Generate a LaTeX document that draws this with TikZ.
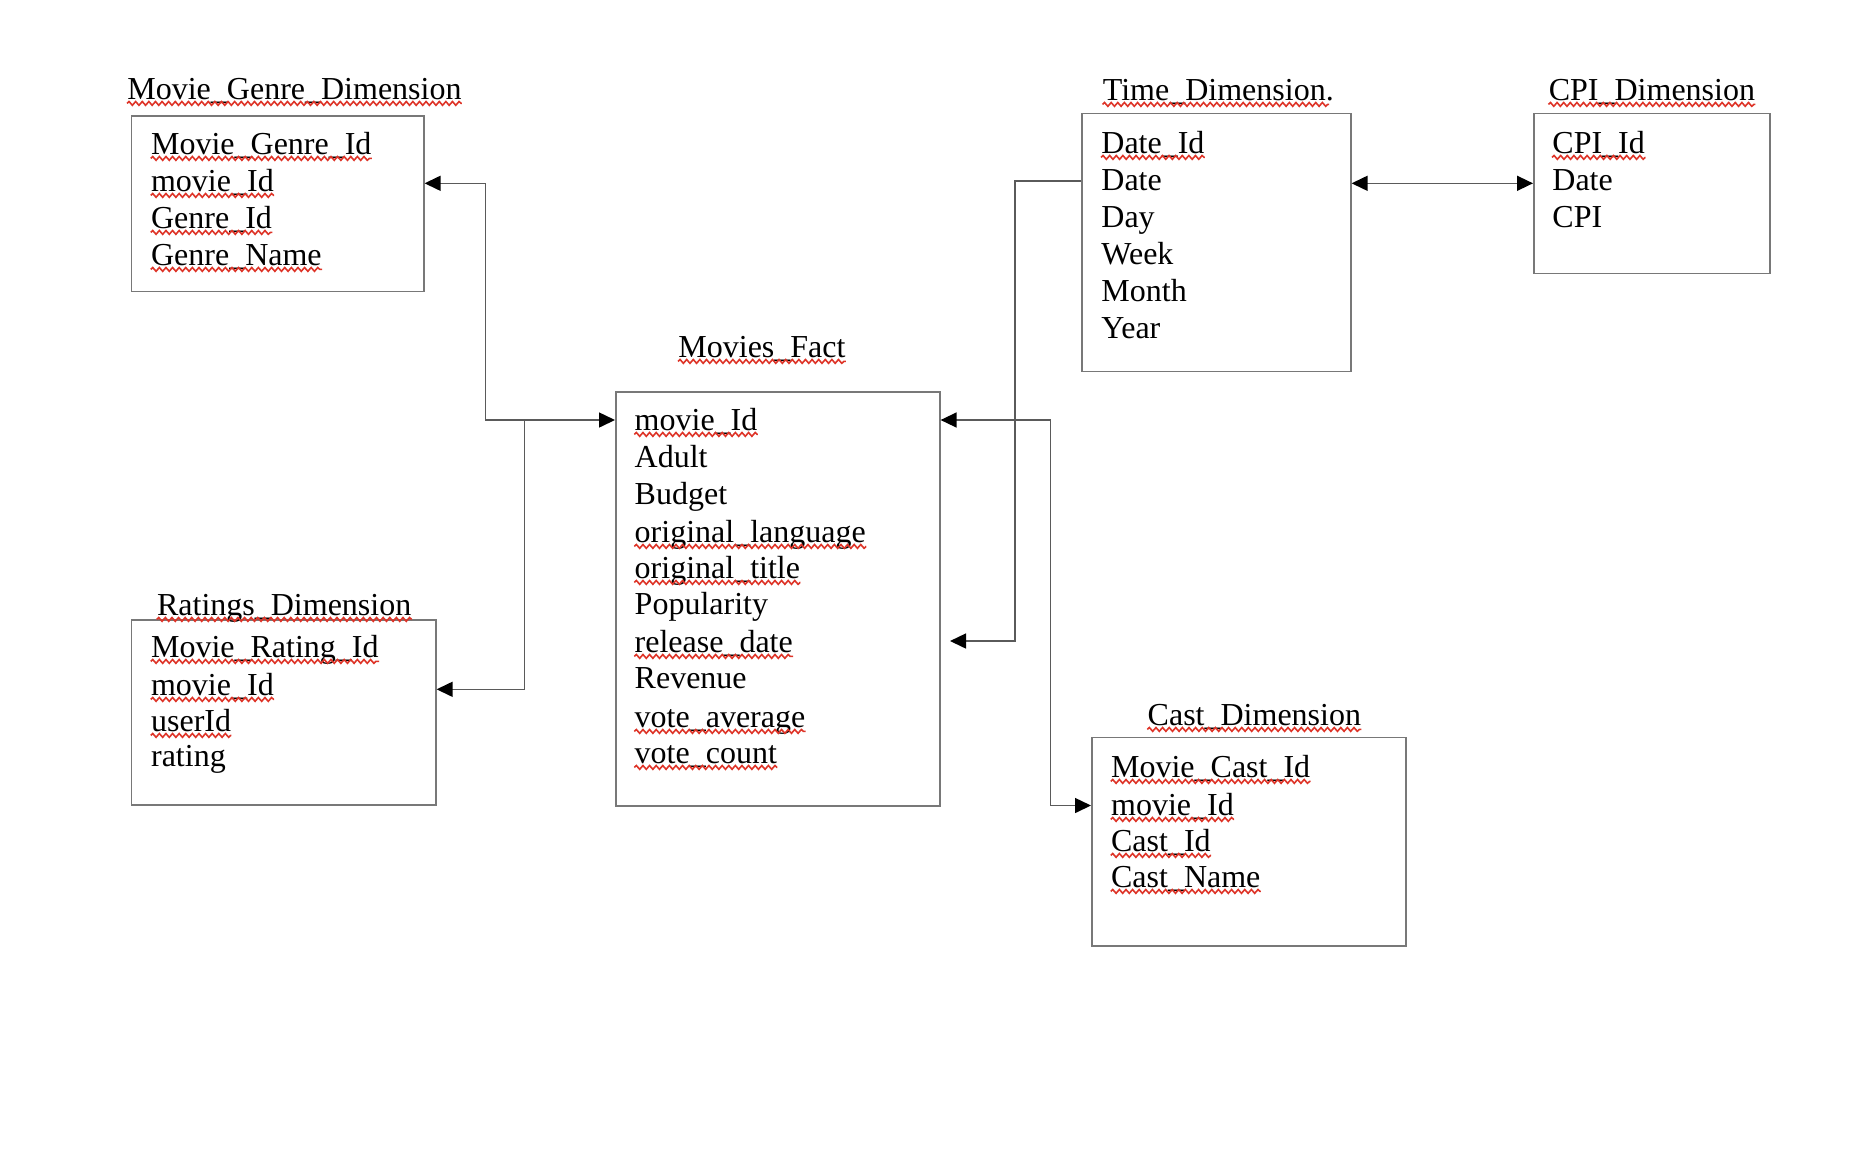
\documentclass[tikz,border=0pt]{standalone}
\usepackage{fontspec}
\setmainfont{Liberation Serif}
\usetikzlibrary{arrows.meta,decorations.pathmorphing}
\definecolor{boxgray}{RGB}{120,120,120}
\definecolor{lngray}{RGB}{90,90,90}
\definecolor{sqred}{RGB}{222,52,40}
\tikzset{
  tbl/.style={draw=boxgray, line width=0.8pt, anchor=north west, inner sep=0pt, rectangle},
  txt/.style={anchor=base west, inner sep=0pt, font=\fontsize{16pt}{19pt}\selectfont},
  conn/.style={draw=lngray, line width=0.75pt},
  wavy/.style={draw=sqred, line width=0.8pt, decorate, decoration={snake, amplitude=0.95pt, segment length=3.3pt}},
  >={Triangle[length=8pt,width=7.5pt,color=black]}
}
\newcommand\wv[1]{\draw[wavy] ([yshift=-2.2pt]#1.base west) -- ([yshift=-2.2pt]#1.base east);}
\newcommand\wvs[1]{\draw[wavy] ([yshift=-2.2pt]#1.base west) -- ([yshift=-2.2pt,xshift=-2.5pt]#1.base east);}
\begin{document}
\begin{tikzpicture}[x=0.5pt,y=-0.5pt]
\useasboundingbox[fill=white] (0,0) rectangle (1862,1148);

% boxes
\node[tbl, minimum width=146.15pt, minimum height=87.85pt] (genre) at (130.7,115) {};
\node[tbl, minimum width=162pt, minimum height=207pt] (fact) at (615,391) {};
\node[tbl, minimum width=152.15pt, minimum height=92.65pt] (ratings) at (130.7,619) {};
\node[tbl, minimum width=134.5pt, minimum height=129pt] (time) at (1081,112.7) {};
\node[tbl, minimum width=118pt, minimum height=80pt] (cpi) at (1533,112.7) {};
\node[tbl, minimum width=157pt, minimum height=104.15pt] (cast) at (1091,736.7) {};

% titles
\node[txt] (tgenre) at (127,99) {Movie\_Genre\_Dimension}; \wv{tgenre}
\node[txt] (tfact) at (678,357) {Movies\_Fact}; \wv{tfact}
\node[txt] (tratings) at (156.7,615) {Ratings\_Dimension}; \wv{tratings}
\node[txt] (ttime) at (1102.5,100) {Time\_Dimension.}; \wvs{ttime}
\node[txt] (tcpi) at (1548.4,100) {CPI\_Dimension}; \wv{tcpi}
\node[txt] (tcast) at (1147.3,725) {Cast\_Dimension}; \wv{tcast}

% genre fields
\node[txt] (g1) at (150.7,154) {Movie\_Genre\_Id}; \wv{g1}
\node[txt] (g2) at (150.7,191) {movie\_Id}; \wv{g2}
\node[txt] (g3) at (150.7,228) {Genre\_Id}; \wv{g3}
\node[txt] (g4) at (150.7,265) {Genre\_Name}; \wv{g4}

% fact fields
\node[txt] (f1) at (634.3,430) {movie\_Id}; \wv{f1}
\node[txt] (f2) at (634.3,467) {Adult};
\node[txt] (f3) at (634.3,504) {Budget};
\node[txt] (f4) at (634.3,542) {original\_language}; \wv{f4}
\node[txt] (f5) at (634.3,578) {original\_title}; \wv{f5}
\node[txt] (f6) at (634.3,614) {Popularity};
\node[txt] (f7) at (634.3,652) {release\_date}; \wv{f7}
\node[txt] (f8) at (634.3,688) {Revenue};
\node[txt] (f9) at (634.3,727) {vote\_average}; \wv{f9}
\node[txt] (f10) at (634.3,763) {vote\_count}; \wv{f10}

% ratings fields
\node[txt] (r1) at (150.7,657) {Movie\_Rating\_Id}; \wv{r1}
\node[txt] (r2) at (150.7,695) {movie\_Id}; \wv{r2}
\node[txt] (r3) at (150.7,731) {userId}; \wv{r3}
\node[txt] (r4) at (150.7,766) {rating};

% time fields
\node[txt] (t1) at (1101,153) {Date\_Id}; \wv{t1}
\node[txt] (t2) at (1101,190) {Date};
\node[txt] (t3) at (1101,227) {Day};
\node[txt] (t4) at (1101,264) {Week};
\node[txt] (t5) at (1101,301) {Month};
\node[txt] (t6) at (1101,338) {Year};

% cpi fields
\node[txt] (c1) at (1552,153) {CPI\_Id}; \wv{c1}
\node[txt] (c2) at (1552,190) {Date};
\node[txt] (c3) at (1552,227) {CPI};

% cast fields
\node[txt] (k1) at (1110.7,777) {Movie\_Cast\_Id}; \wv{k1}
\node[txt] (k2) at (1110.7,815) {movie\_Id}; \wv{k2}
\node[txt] (k3) at (1110.7,851) {Cast\_Id}; \wv{k3}
\node[txt] (k4) at (1110.7,887) {Cast\_Name}; \wv{k4}

% connector bend points
\coordinate (gy) at (485.7,183.3);
\coordinate (fy) at (485.7,420);
\coordinate (ry) at (524.5,689.3);
\coordinate (jy) at (524.5,420);
\coordinate (cx1) at (1050.7,420);
\coordinate (cx2) at (1050.7,805.5);
\coordinate (tx1) at (1015,181);
\coordinate (tx2) at (1015,641);
\coordinate (rd) at (950,641);
\coordinate (ty) at (1400,183.3);

% connectors
\draw[conn,<->] (genre.east |- gy) -- (gy) -- (fy) -- (fact.west |- fy);
\draw[conn,->] (jy) -- (ry) -- (ratings.east |- ry);
\draw[conn,<->] (fact.east |- cx1) -- (cx1) -- (cx2) -- (cast.west |- cx2);
\draw[conn,->] (time.west |- tx1) -- (tx1) -- (tx2) -- (rd);
\draw[conn,<->] (time.east |- ty) -- (cpi.west |- ty);
\end{tikzpicture}
\end{document}
